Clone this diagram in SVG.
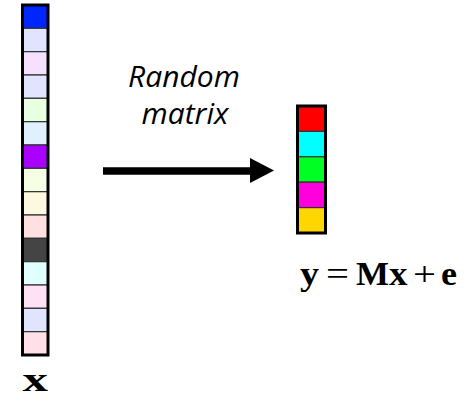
<svg xmlns="http://www.w3.org/2000/svg" width="464" height="402" viewBox="0 0 464 402">
<style>
.cell{stroke:#333;stroke-width:1.2}
.frame{fill:none;stroke:#000;stroke-width:3}
.lbl{font-family:"Open Sans","Liberation Sans",sans-serif;font-style:italic;font-size:30px;fill:#000}
.math{font-family:"Liberation Serif","DejaVu Serif",serif;fill:#000;font-size:34px}
.b{font-weight:bold}
</style>
<rect width="464" height="402" fill="#fff"/>
<g id="x-vector">
<rect class="cell" x="22.5" y="5" width="25.5" height="23.33" fill="#0026ff"/>
<rect class="cell" x="22.5" y="28.33" width="25.5" height="23.33" fill="#e0e4ff"/>
<rect class="cell" x="22.5" y="51.67" width="25.5" height="23.33" fill="#f5e0ff"/>
<rect class="cell" x="22.5" y="75" width="25.5" height="23.33" fill="#e0e4ff"/>
<rect class="cell" x="22.5" y="98.33" width="25.5" height="23.33" fill="#e8ffe0"/>
<rect class="cell" x="22.5" y="121.67" width="25.5" height="23.33" fill="#e0f0ff"/>
<rect class="cell" x="22.5" y="145" width="25.5" height="23.33" fill="#aa00ff"/>
<rect class="cell" x="22.5" y="168.33" width="25.5" height="23.33" fill="#f6ffe4"/>
<rect class="cell" x="22.5" y="191.67" width="25.5" height="23.33" fill="#fff8e0"/>
<rect class="cell" x="22.5" y="215" width="25.5" height="23.33" fill="#ffe0e0"/>
<rect class="cell" x="22.5" y="238.33" width="25.5" height="23.33" fill="#444444"/>
<rect class="cell" x="22.5" y="261.67" width="25.5" height="23.33" fill="#e0ffff"/>
<rect class="cell" x="22.5" y="285" width="25.5" height="23.33" fill="#ffe0f5"/>
<rect class="cell" x="22.5" y="308.33" width="25.5" height="23.33" fill="#e0e4ff"/>
<rect class="cell" x="22.5" y="331.67" width="25.5" height="23.33" fill="#ffe0e8"/>
<rect class="frame" x="22.5" y="5" width="25.5" height="350"/>
<text class="math b" x="22.5" y="391" font-size="37" textLength="25.5" lengthAdjust="spacingAndGlyphs">x</text>
</g>
<g id="y-vector">
<rect class="cell" x="297.5" y="106" width="28" height="25.4" fill="#ff0000"/>
<rect class="cell" x="297.5" y="131.4" width="28" height="25.4" fill="#00ffff"/>
<rect class="cell" x="297.5" y="156.8" width="28" height="25.4" fill="#00ff22"/>
<rect class="cell" x="297.5" y="182.2" width="28" height="25.4" fill="#ff00dd"/>
<rect class="cell" x="297.5" y="207.6" width="28" height="25.4" fill="#ffd700"/>
<rect class="frame" x="297.5" y="106" width="28" height="127"/>
<text class="math" y="285"><tspan class="b" x="300" textLength="19" lengthAdjust="spacingAndGlyphs">y</tspan><tspan x="326" textLength="23" lengthAdjust="spacingAndGlyphs">=</tspan><tspan class="b" x="356" textLength="33" lengthAdjust="spacingAndGlyphs">M</tspan><tspan class="b" x="389" textLength="18.5" lengthAdjust="spacingAndGlyphs">x</tspan><tspan x="413" textLength="23" lengthAdjust="spacingAndGlyphs">+</tspan><tspan class="b" x="441" textLength="16" lengthAdjust="spacingAndGlyphs">e</tspan></text>
</g>
<g id="connectors">
<line x1="103" y1="171" x2="251" y2="171" stroke="#000" stroke-width="7.5"/>
<polygon points="250,158 274,170.5 250,183" fill="#000"/>
<text class="lbl" x="184" y="87" text-anchor="middle">Random</text>
<text class="lbl" x="185" y="124" text-anchor="middle">matrix</text>
</g>
</svg>
